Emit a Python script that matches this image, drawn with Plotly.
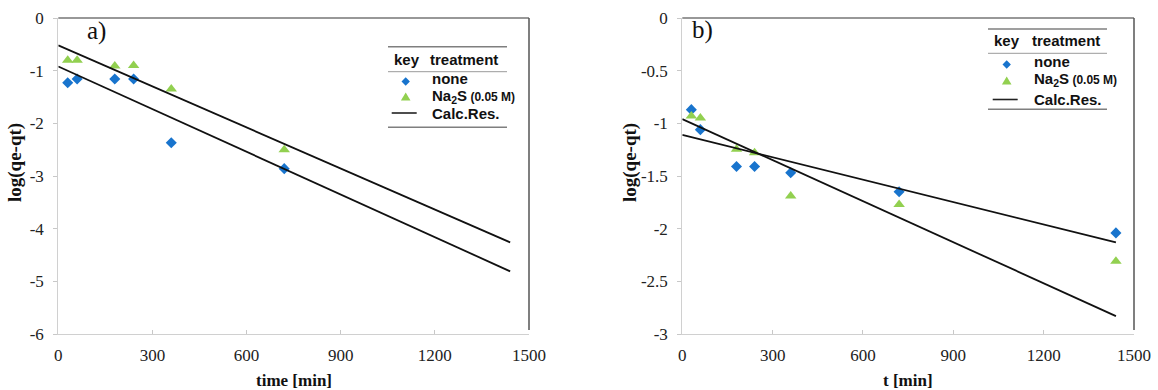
import plotly.graph_objects as go

W, H = 1158, 390

# ---------------- data ----------------
t_a = [30, 60, 180, 240, 360, 720]
none_a = [-1.23, -1.16, -1.16, -1.16, -2.37, -2.86]
na2s_a = [-0.80, -0.80, -0.91, -0.90, -1.35, -2.50]
t_line_a = [0, 1440]
calc_none_a = [-0.92, -4.81]
calc_na2s_a = [-0.52, -4.26]

t_b = [30, 60, 180, 240, 360, 720, 1440]
none_b = [-0.87, -1.06, -1.41, -1.41, -1.47, -1.65, -2.04]
na2s_b = [-0.93, -0.95, -1.245, -1.28, -1.69, -1.77, -2.31]
t_line_b = [0, 1440]
calc_none_b = [-1.11, -2.13]
calc_na2s_b = [-0.96, -2.83]

x_ticks = [0, 300, 600, 900, 1200, 1500]
y_ticks_a = [0, -1, -2, -3, -4, -5, -6]
y_ticks_b = [0, -0.5, -1, -1.5, -2, -2.5, -3]

BLUE = "#1874CD"
GREEN = "#92D050"
SERIF = "Liberation Serif"
SANS = "Liberation Sans"


def px(x):
    return x / W


def py(y):
    return 1 - y / H


fig = go.Figure()


def add_panel(xa, ya, t, n, s, tl, cn, cs):
    fig.add_trace(go.Scatter(x=t, y=n, mode="markers", xaxis=xa, yaxis=ya,
                             marker=dict(symbol="diamond", size=8.5, color=BLUE),
                             showlegend=False))
    fig.add_trace(go.Scatter(x=t, y=s, mode="markers", xaxis=xa, yaxis=ya,
                             marker=dict(symbol="triangle-up", size=10, color=GREEN),
                             showlegend=False))
    for c in (cn, cs):
        fig.add_trace(go.Scatter(x=tl, y=c, mode="lines", xaxis=xa, yaxis=ya,
                                 line=dict(color="#111111", width=1.8),
                                 showlegend=False))


add_panel("x", "y", t_a, none_a, na2s_a, t_line_a, calc_none_a, calc_na2s_a)
add_panel("x2", "y2", t_b, none_b, na2s_b, t_line_b, calc_none_b, calc_na2s_b)

dom_y = [py(334), py(18)]
dom_x1 = [px(58.3), px(529)]
dom_x2 = [px(682.3), px(1134)]


def fmt(v):
    return "%g" % v


xax = dict(range=[0, 1500], tickvals=x_ticks, ticktext=[fmt(v) for v in x_ticks],
           showgrid=False, zeroline=False, showline=True, linecolor="#d0d0d0",
           linewidth=1.2, ticks="inside", ticklen=4, tickcolor="#c8c8c8",
           tickfont=dict(family=SERIF, size=17, color="#222"),
           ticklabelstandoff=5, automargin=False)
yax = dict(showgrid=False, zeroline=False, showline=True, linecolor="#d0d0d0",
           linewidth=1.2, ticks="outside", ticklen=4, tickcolor="#c8c8c8",
           tickfont=dict(family=SERIF, size=17, color="#222"),
           ticklabelstandoff=6, automargin=False)

fig.update_layout(
    width=W, height=H,
    margin=dict(l=0, r=0, t=0, b=0),
    paper_bgcolor="white", plot_bgcolor="white",
    xaxis=dict(xax, domain=dom_x1, anchor="y"),
    yaxis=dict(yax, domain=dom_y, anchor="x", range=[-6, 0],
               tickvals=y_ticks_a, ticktext=[fmt(v) for v in y_ticks_a]),
    xaxis2=dict(xax, domain=dom_x2, anchor="y2"),
    yaxis2=dict(yax, domain=dom_y, anchor="x2", range=[-3, 0],
                tickvals=y_ticks_b, ticktext=[fmt(v) for v in y_ticks_b]),
    showlegend=False,
)

shapes = []
ann = []


def text(t, x, y, size, family, xanchor="center", angle=0):
    ann.append(dict(text=t, x=px(x), y=py(y), xref="paper", yref="paper",
                    xanchor=xanchor, yanchor="middle", showarrow=False, textangle=angle,
                    font=dict(family=family, size=size, color="#111")))


# frame top/right lines
for (x0, x1) in ((58.3, 529), (682.3, 1134)):
    shapes.append(dict(type="line", xref="paper", yref="paper",
                       x0=px(x0), x1=px(x1), y0=py(18), y1=py(18),
                       line=dict(color="#333333", width=1.2)))
    shapes.append(dict(type="line", xref="paper", yref="paper",
                       x0=px(x1), x1=px(x1), y0=py(18), y1=py(330),
                       line=dict(color="#555555", width=1.5)))

# axis titles
text("<b>time [min]</b>", 294, 380, 17, SERIF)
text("<b>t [min]</b>", 908, 380, 17, SERIF)
text("<b>log(qe-qt)</b>", 15, 163, 19, SERIF, angle=-90)
text("<b>log(qe-qt)</b>", 630, 163, 19, SERIF, angle=-90)

# panel labels
text("a)", 96, 31, 25, SERIF)
text("b)", 702, 30, 25, SERIF)


# custom legends
def legend(x_left, x_right, y_top, y_hdr, y_sep, y_r1, y_r2, y_r3, y_bot, mk_x, txt_x, key_x):
    for yy, col, w in ((y_top, "#7f7f7f", 1.6), (y_sep, "#9a9a9a", 1.0), (y_bot, "#7f7f7f", 1.6)):
        shapes.append(dict(type="line", xref="paper", yref="paper",
                           x0=px(x_left), x1=px(x_right), y0=py(yy), y1=py(yy),
                           line=dict(color=col, width=w)))
    text("<b>key</b>", key_x, y_hdr, 15, SANS, xanchor="left")
    text("<b>treatment</b>", txt_x - 2, y_hdr, 15, SANS, xanchor="left")
    text("<b>none</b>", txt_x, y_r1, 15, SANS, xanchor="left")
    text("<b>Na<sub>2</sub>S</b><span style='font-size:12px'><b> (0.05 M)</b></span>",
         txt_x, y_r2, 15, SANS, xanchor="left")
    text("<b>Calc.Res.</b>", txt_x, y_r3, 15, SANS, xanchor="left")
    # diamond marker
    d = 4.2
    cy = y_r1 + 3
    shapes.append(dict(type="path", xref="paper", yref="paper",
                       path=f"M {px(mk_x)} {py(cy - d)} L {px(mk_x + d)} {py(cy)} L {px(mk_x)} {py(cy + d)} L {px(mk_x - d)} {py(cy)} Z",
                       fillcolor=BLUE, line=dict(width=0)))
    # triangle marker
    cy = y_r2 + 1
    shapes.append(dict(type="path", xref="paper", yref="paper",
                       path=f"M {px(mk_x)} {py(cy - 4.5)} L {px(mk_x + 4.8)} {py(cy + 3.5)} L {px(mk_x - 4.8)} {py(cy + 3.5)} Z",
                       fillcolor=GREEN, line=dict(width=0)))
    # line sample
    shapes.append(dict(type="line", xref="paper", yref="paper",
                       x0=px(mk_x - 14), x1=px(mk_x + 11), y0=py(y_r3), y1=py(y_r3),
                       line=dict(color="#222", width=1.6)))


legend(388, 507, 46.7, 59, 71.7, 78.5, 96, 113, 127.3, 405.7, 430, 392)
legend(988, 1107, 29, 40.7, 53.3, 61.5, 80, 99.5, 109.3, 1006.7, 1031.5, 991.7)

fig.update_layout(shapes=shapes, annotations=ann)
fig.write_html("out.html", config={"displayModeBar": False},
               post_script="document.body.style.margin='0px';document.body.style.overflow='hidden';")
